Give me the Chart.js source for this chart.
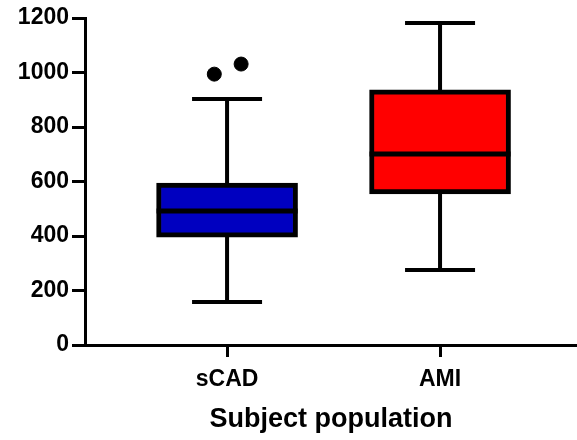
<!DOCTYPE html>
<html>
<head>
<meta charset="utf-8">
<script src="https://cdn.jsdelivr.net/npm/chart.js@4/dist/chart.umd.min.js"></script>
<style>
  html, body { margin: 0; padding: 0; background: #fff; }
  #wrap { width: 577px; height: 440px; }
</style>
</head>
<body>
<div id="wrap"><canvas id="boxChart"></canvas></div>
<script>
// data
const categories = ["sCAD", "AMI"];
const xPositions = [0, 1];
const whiskerMin = [158, 275];
const q1 = [396, 554];
const median = [492, 701];
const q3 = [594, 936];
const whiskerMax = [903, 1182];
const boxColors = ["#0000c0", "#ff0000"];
// outliers (sCAD only), with the small horizontal jitter seen in the plot
const outlierGroup = [0, 0];
const outlierJitter = [-0.06, 0.066];
const outlierValues = [994, 1031];
const yTicks = [0, 200, 400, 600, 800, 1000, 1200];

const FONT = "'Liberation Sans', Arial, sans-serif";

// whiskers, caps and median lines, drawn through the chart's scales
const boxLines = {
    id: "boxLines",
    beforeDatasetsDraw(chart) {
        const ctx = chart.ctx;
        const xs = chart.scales.x, ys = chart.scales.y;
        ctx.save();
        ctx.strokeStyle = "#000";
        ctx.lineWidth = 4;
        ctx.lineCap = "butt";
        xPositions.forEach((xv, i) => {
            const cx = xs.getPixelForValue(xv);
            const half = 35;
            const yMin = ys.getPixelForValue(whiskerMin[i]);
            const yMax = ys.getPixelForValue(whiskerMax[i]);
            const yQ1 = ys.getPixelForValue(q1[i]);
            const yQ3 = ys.getPixelForValue(q3[i]);
            ctx.beginPath();
            ctx.moveTo(cx, yQ3); ctx.lineTo(cx, yMax);
            ctx.moveTo(cx - half, yMax); ctx.lineTo(cx + half, yMax);
            ctx.moveTo(cx, yQ1); ctx.lineTo(cx, yMin);
            ctx.moveTo(cx - half, yMin); ctx.lineTo(cx + half, yMin);
            ctx.stroke();
        });
        ctx.restore();
    },
    afterDatasetsDraw(chart) {
        const ctx = chart.ctx;
        const ys = chart.scales.y;
        const bars = chart.getDatasetMeta(0).data;
        ctx.save();
        ctx.strokeStyle = "#000";
        ctx.lineWidth = 5;
        bars.forEach((bar, i) => {
            const ym = ys.getPixelForValue(median[i]);
            const hw = bar.width / 2;
            ctx.beginPath();
            ctx.moveTo(bar.x - hw, ym);
            ctx.lineTo(bar.x + hw, ym);
            ctx.stroke();
        });
        ctx.restore();
    }
};

const ctx = document.getElementById("boxChart").getContext("2d");
const boxChart = new Chart(ctx, {
    type: "bar",
    data: {
        datasets: [
            {
                type: "bar",
                data: xPositions.map((x, i) => ({ x: x, y: [q1[i], q3[i]] })),
                backgroundColor: boxColors,
                borderColor: "#000",
                borderWidth: 5,
                borderSkipped: false,
                barThickness: 141,
                order: 2,
            },
            {
                type: "scatter",
                data: outlierValues.map((v, i) => ({ x: xPositions[outlierGroup[i]] + outlierJitter[i], y: v })),
                backgroundColor: "#000",
                borderColor: "#000",
                pointRadius: 7,
                order: 1,
            },
        ],
    },
    options: {
        responsive: true,
        maintainAspectRatio: false,
        animation: false,
        layout: { autoPadding: false, padding: { top: 18, right: 0, left: 0, bottom: 0 } },
        plugins: {
            legend: { display: false },
            tooltip: { enabled: false },
        },
        scales: {
            x: {
                type: "linear",
                offset: false,
                min: -0.667,
                max: 1.643,
                afterBuildTicks: (axis) => {
                    axis.ticks = xPositions.map((v) => ({ value: v }));
                },
                afterFit: (axis) => {
                    axis.height = 95;
                    axis.paddingLeft = 0;
                    axis.paddingRight = 0;
                },
                grid: {
                    offset: false,
                    drawOnChartArea: false,
                    drawTicks: true,
                    tickLength: 12,
                    lineWidth: 3,
                    color: "#000",
                },
                border: { display: true, color: "#000", width: 3 },
                ticks: {
                    color: "#000",
                    padding: 9,
                    maxRotation: 0,
                    font: { family: FONT, size: 23, weight: "bold" },
                    callback: (value, index) => categories[index],
                },
                title: {
                    display: true,
                    text: "Subject population",
                    color: "#000",
                    padding: { top: 21 },
                    font: { family: FONT, size: 27, weight: "bold" },
                },
            },
            y: {
                min: 0,
                max: 1200,
                afterBuildTicks: (axis) => {
                    axis.ticks = yTicks.map((v) => ({ value: v }));
                },
                afterFit: (axis) => { axis.width = 85; },
                grid: {
                    drawOnChartArea: false,
                    drawTicks: true,
                    tickLength: 13,
                    lineWidth: 3,
                    color: "#000",
                },
                border: { display: true, color: "#000", width: 3 },
                ticks: {
                    color: "#000",
                    padding: 3,
                    font: { family: FONT, size: 23, weight: "bold" },
                    callback: (value) => String(value),
                },
            },
        },
    },
    plugins: [boxLines],
});
</script>
</body>
</html>
